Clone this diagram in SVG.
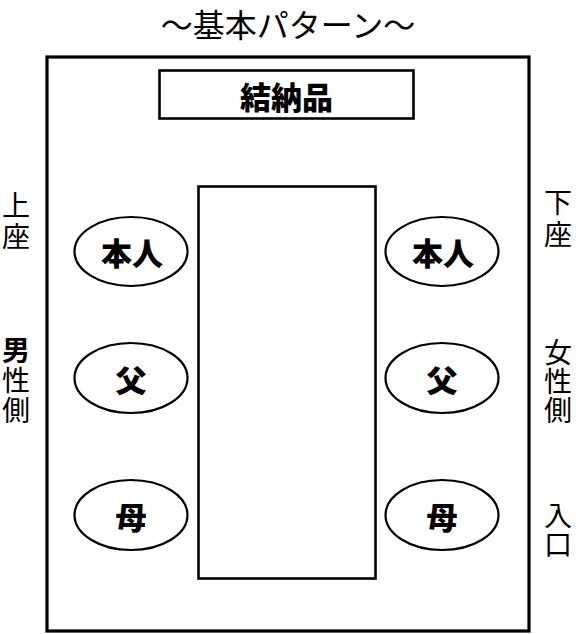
<svg xmlns="http://www.w3.org/2000/svg" width="580" height="634" viewBox="0 0 580 634">
<style>
text{font-family:"Noto Sans CJK JP","Noto Sans CJK SC",sans-serif;fill:#000;text-anchor:middle;dominant-baseline:central}
.lbl{font-size:28px;writing-mode:vertical-rl;text-anchor:start;text-orientation:upright}
.node{font-size:31px;font-weight:900}
.seat{fill:#fff;stroke:#000;stroke-width:2.2}
.box{fill:#fff;stroke:#000;stroke-width:2.6}
</style>
<rect width="580" height="634" fill="#fff"/>
<text id="title" x="288" y="23" style="font-size:32px">～基本パターン～</text>
<rect id="room" x="47" y="57" width="482" height="574" fill="#fff" stroke="#000" stroke-width="3.2"/>
<g id="yuinouhin"><rect class="box" x="159.5" y="70.5" width="254" height="48"/><text class="node" x="286.5" y="95">結納品</text></g>
<g id="table"><rect class="box" x="198.5" y="186.5" width="177" height="392"/></g>
<g id="l-honnin"><ellipse class="seat" cx="131" cy="251.5" rx="56.5" ry="34.5"/><text class="node" x="132" y="251.5">本人</text></g>
<g id="l-chichi"><ellipse class="seat" cx="131" cy="378" rx="56.5" ry="35"/><text class="node" x="131" y="378">父</text></g>
<g id="l-haha"><ellipse class="seat" cx="131" cy="515" rx="56.5" ry="35"/><text class="node" x="131" y="515">母</text></g>
<g id="r-honnin"><ellipse class="seat" cx="442" cy="251.5" rx="56.5" ry="34.5"/><text class="node" x="443" y="251.5">本人</text></g>
<g id="r-chichi"><ellipse class="seat" cx="442" cy="378" rx="56.5" ry="35"/><text class="node" x="442" y="378">父</text></g>
<g id="r-haha"><ellipse class="seat" cx="442" cy="515" rx="56.5" ry="35"/><text class="node" x="442" y="515">母</text></g>
<g id="left-labels">
<text class="lbl" x="16" y="191" letter-spacing="3">上座</text>
<text class="lbl" x="16" y="336" letter-spacing="2"><tspan font-weight="bold">男</tspan>性側</text>
</g>
<g id="right-labels">
<text class="lbl" x="558" y="188" letter-spacing="4">下座</text>
<text class="lbl" x="558" y="338" letter-spacing="1">女性側</text>
<text class="lbl" x="558" y="501" letter-spacing="1">入口</text>
</g>
<g id="connectors"/>
</svg>
